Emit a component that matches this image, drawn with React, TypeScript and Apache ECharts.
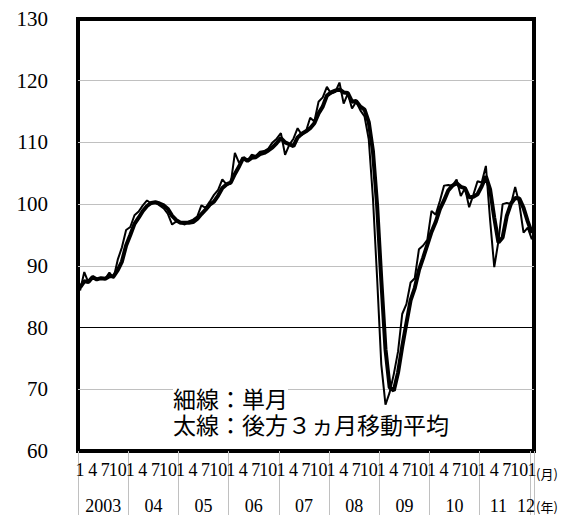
import React, { useEffect, useRef } from "react";
import * as echarts from "echarts";

// ---- data ----
const YEARS = [2003, 2004, 2005, 2006, 2007, 2008, 2009, 2010, 2011, 2012];
const MONTHS_SHOWN = [1, 4, 7, 10];
const YEAR_LABELS = ["2003", "04", "05", "06", "07", "08", "09", "10", "11", "12"];

// 単月 (thin line), 2003/1 .. 2012/1
const SINGLE_MONTH = [
  86.0, 89.0, 87.3, 88.3, 87.8, 88.0, 87.9, 88.9, 88.0, 91.0, 93.0, 95.8,
  96.3, 98.2, 98.8, 99.8, 100.6, 100.1, 100.3, 99.8, 99.3, 98.4, 96.7, 97.2,
  97.0, 96.7, 97.2, 97.5, 98.0, 99.8, 99.4, 100.4, 101.5, 102.3, 104.0, 103.2,
  103.3, 108.3, 106.7, 107.4, 107.0, 108.0, 107.8, 108.5, 108.6, 109.0, 110.0, 110.6,
  111.5, 108.0, 109.6, 110.6, 112.3, 111.2, 111.8, 114.0, 113.4, 116.6, 117.3, 119.0,
  117.9, 118.2, 119.7, 116.3, 117.9, 115.5, 116.6, 115.2, 114.2, 110.5, 101.0, 88.0,
  74.0, 67.5, 69.5, 72.5, 76.1, 82.2, 83.8, 87.3, 88.0, 92.7, 93.3, 94.2,
  98.9, 98.3, 100.5, 103.0, 103.1, 103.0, 104.0, 101.3, 102.6, 99.5, 101.5, 103.7,
  103.5, 106.2, 97.5, 89.8, 94.0, 100.0, 100.2, 100.0, 102.8, 100.0, 95.4, 96.2,
  94.3,
];

// 後方3ヵ月移動平均 (thick line)
const MOVING_AVG_3M = [
  86.5, 87.5, 87.4, 88.2, 87.8, 88.0, 87.9, 88.3, 88.3, 89.3, 90.7, 93.3,
  95.0, 96.8, 97.8, 98.9, 99.7, 100.2, 100.3, 100.1, 99.8, 99.2, 98.1, 97.4,
  97.0, 97.0, 97.0, 97.1, 97.6, 98.4, 99.1, 99.9, 100.4, 101.4, 102.6, 103.2,
  103.5, 104.9, 106.1, 107.5, 107.0, 107.5, 107.6, 108.1, 108.3, 108.7, 109.2, 109.9,
  110.7, 110.0, 109.7, 109.4, 110.8, 111.4, 111.8, 112.3, 113.1, 114.7, 115.8, 117.6,
  118.1, 118.4, 118.6, 118.1, 118.0, 116.6, 116.7, 115.8, 115.3, 113.3, 108.6, 99.8,
  87.7, 76.5, 70.3, 69.8, 72.7, 76.9, 80.7, 84.4, 86.4, 89.3, 91.3, 93.4,
  95.5, 97.1, 99.2, 100.6, 102.2, 103.0, 103.4, 102.8, 102.6, 101.1, 101.2, 101.6,
  102.9, 104.5, 102.4, 97.8, 93.8, 94.6, 98.1, 100.1, 101.0, 100.9, 99.4, 97.2,
  95.3,
];

const Y_MIN = 60;
const Y_MAX = 130;
const Y_INTERVAL = 10;
const REFERENCE_LINE = 80;
const NOTES = ["細線：単月", "太線：後方３ヵ月移動平均"];
const UNIT_MONTH = "(月)";
const UNIT_YEAR = "(年)";

// categories: "YYYY-M"
const CATEGORIES: string[] = [];
YEARS.forEach((y) => {
  for (let m = 1; m <= 12; m++) {
    if (CATEGORIES.length < SINGLE_MONTH.length) CATEGORIES.push(`${y}-${m}`);
  }
});

const SERIF = "'Liberation Serif', 'DejaVu Serif', serif";
const JP = "'Noto Sans CJK JP', sans-serif";

export default function App() {
  const ref = useRef<HTMLDivElement>(null);
  useEffect(() => {
    const chart = echarts.init(ref.current!, undefined, { renderer: "svg" });

    // year label placement index for each year (centre of year, last two nudged as in the original)
    const yearLabelAt: Record<number, string> = {};
    YEARS.forEach((y, k) => {
      let idx = k * 12 + 6;
      if (y === 2011) idx = k * 12 + 4;
      if (y === 2012) idx = k * 12;
      yearLabelAt[idx] = YEAR_LABELS[k];
    });

    chart.setOption({
      animation: false,
      backgroundColor: "#fff",
      grid: {
        left: 78,
        right: 33,
        top: 19,
        bottom: 64,
        show: true,
        borderColor: "#000",
        borderWidth: 4,
        backgroundColor: "transparent",
      },
      xAxis: [
        {
          type: "category",
          data: CATEGORIES,
          position: "bottom",
          boundaryGap: true,
          axisLine: { show: false },
          axisTick: { show: false },
          splitLine: { show: false },
          axisLabel: {
            interval: 0,
            margin: 10,
            fontSize: 18,
            fontFamily: SERIF,
            color: "#000",
            formatter: (v: string) => {
              const m = Number(v.split("-")[1]);
              return MONTHS_SHOWN.includes(m) ? String(m) : "";
            },
          },
        },
        {
          type: "category",
          data: CATEGORIES,
          position: "bottom",
          boundaryGap: true,
          axisLine: { show: false },
          axisTick: { show: false },
          splitLine: { show: false },
          axisLabel: {
            interval: 0,
            margin: 46,
            fontSize: 18,
            fontFamily: SERIF,
            color: "#000",
            formatter: (_v: string, idx: number) => {
              const lab = yearLabelAt[idx];
              if (!lab) return "";
              if (lab === "12") return `{e|${lab}}`;
              if (lab === "11") return `{d|${lab}}`;
              return `{c|${lab}}`;
            },
            rich: {
              c: { fontSize: 18, fontFamily: SERIF, color: "#000", padding: [0, 4, 0, 0] },
              d: { fontSize: 18, fontFamily: SERIF, color: "#000" },
              e: { fontSize: 18, fontFamily: SERIF, color: "#000", padding: [0, 12, 0, 0] },
            },
          },
        },
        {
          type: "value",
          position: "bottom",
          min: 0,
          max: CATEGORIES.length,
          interval: 12,
          axisLine: { show: false },
          splitLine: { show: false },
          axisLabel: { show: false },
          axisTick: {
            show: true,
            length: 64,
            lineStyle: { color: "#c0c0c0", width: 1 },
          },
        },
      ],
      yAxis: {
        type: "value",
        min: Y_MIN,
        max: Y_MAX,
        interval: Y_INTERVAL,
        axisLine: { show: false },
        axisTick: { show: false },
        axisLabel: {
          fontSize: 21,
          fontFamily: SERIF,
          color: "#000",
          margin: 30,
        },
        splitLine: {
          show: true,
          showMinLine: false,
          showMaxLine: false,
          lineStyle: { color: "#c0c0c0", width: 1 },
        },
      },
      series: [
        {
          type: "line",
          name: "後方3ヵ月移動平均",
          data: MOVING_AVG_3M,
          xAxisIndex: 0,
          symbol: "none",
          lineStyle: { color: "#000", width: 4 },
          z: 2,
        },
        {
          type: "line",
          name: "単月",
          data: SINGLE_MONTH,
          xAxisIndex: 0,
          symbol: "none",
          lineStyle: { color: "#000", width: 2 },
          z: 3,
          markLine: {
            silent: true,
            symbol: ["none", "none"],
            label: { show: false },
            lineStyle: { color: "#000", width: 1, type: "solid" },
            data: [{ yAxis: REFERENCE_LINE }],
          },
        },
      ],
      graphic: [
        {
          type: "text",
          x: 173,
          y: 411,
          z: 100,
          style: {
            text: `{a|${NOTES[0]}}\n{b|${NOTES[1]}}`,
            fontSize: 23,
            fontFamily: JP,
            fill: "#000",
            verticalAlign: "middle",
            lineHeight: 26,
            rich: {
              a: { fontSize: 23, fontFamily: JP, fill: "#000", lineHeight: 26, backgroundColor: "#fff" },
              b: { fontSize: 23, fontFamily: JP, fill: "#000", lineHeight: 26 },
            },
          },
        },
        {
          type: "text",
          x: 536,
          y: 473,
          style: { text: UNIT_MONTH, fontSize: 13, fontFamily: JP, fill: "#000", verticalAlign: "middle" },
        },
        {
          type: "text",
          x: 536,
          y: 506,
          style: { text: UNIT_YEAR, fontSize: 13, fontFamily: JP, fill: "#000", verticalAlign: "middle" },
        },
      ],
    });
    return () => chart.dispose();
  }, []);
  return (
    <div
      ref={ref}
      style={{ position: "absolute", left: 0, top: 0, width: 567, height: 515, background: "#fff" }}
    />
  );
}
